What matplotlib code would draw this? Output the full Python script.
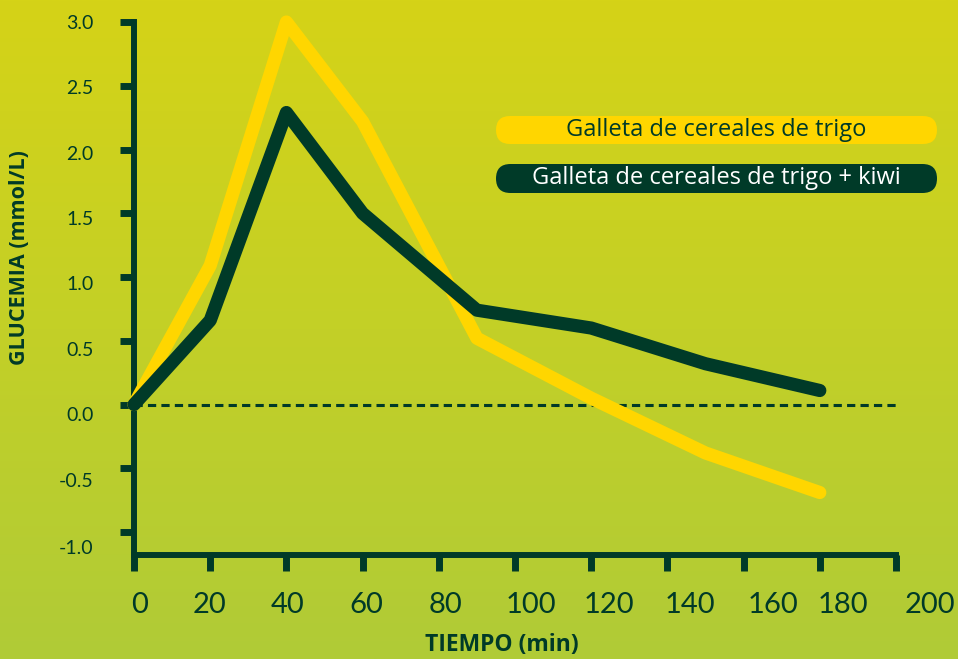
import numpy as np
import matplotlib
matplotlib.use("Agg")
import matplotlib.pyplot as plt
from matplotlib.patches import FancyBboxPatch
from matplotlib.transforms import ScaledTranslation, IdentityTransform
from matplotlib.colors import LinearSegmentedColormap

# ---------------- data ----------------
time_min = [0, 20, 40, 60, 90, 120, 150, 180]
galleta = [0.0, 1.09, 3.0, 2.22, 0.52, 0.05, -0.38, -0.69]
galleta_kiwi = [0.0, 0.66, 2.29, 1.50, 0.74, 0.60, 0.32, 0.11]
series_names = ["Galleta de cereales de trigo",
                "Galleta de cereales de trigo + kiwi"]
x_ticks = [0, 20, 40, 60, 80, 100, 120, 140, 160, 180, 200]
x_tick_labels = ["0", "20", "40", "60", "80", "100", "120", "140", "160", "180", "200"]
y_ticks = [-1.0, -0.5, 0.0, 0.5, 1.0, 1.5, 2.0, 2.5, 3.0]
y_tick_labels = ["-1.0", "-0.5", "0.0", "0.5", "1.0", "1.5", "2.0", "2.5", "3.0"]
x_label = "TIEMPO (min)"
y_label = "GLUCEMIA (mmol/L)"

# ---------------- style ----------------
plt.rcParams['font.family'] = ['Lato', 'DejaVu Sans']
WIDE = ['Open Sans', 'DejaVu Sans']
YELLOW = "#FFD600"
DARK = "#003A28"
W, H, DPI = 958, 659, 100

fig = plt.figure(figsize=(W / DPI, H / DPI), dpi=DPI)

# gradient background
bg = fig.add_axes([0, 0, 1, 1], zorder=0)
grad = np.linspace(0, 1, 256).reshape(-1, 1)
cmap = LinearSegmentedColormap.from_list("bg", ["#D5D317", "#C3D027", "#B0CB37"])
bg.imshow(grad, aspect='auto', cmap=cmap, extent=[0, 1, 0, 1], origin='upper')
bg.axis('off')

ax = fig.add_axes([134 / W, (H - 555) / H, (896 - 134) / W, (555 - 22) / H], zorder=1)
ax.patch.set_alpha(0)

ax.axhline(0, color=DARK, lw=2.2, dashes=(2.7, 1.7), zorder=2)
ax.plot(time_min, galleta, color=YELLOW, lw=9.5, solid_capstyle='round',
        solid_joinstyle='round', zorder=3, clip_on=False)
ax.plot(time_min, galleta_kiwi, color=DARK, lw=9.5, solid_capstyle='round',
        solid_joinstyle='round', zorder=4, clip_on=False)

ax.set_xlim(0, 200)
ax.set_ylim(-1.18, 3.0)

for s in ['top', 'right']:
    ax.spines[s].set_visible(False)
for s in ['left', 'bottom']:
    ax.spines[s].set_color(DARK)
    ax.spines[s].set_linewidth(4.3)
    ax.spines[s].set_capstyle('projecting')

ax.set_xticks(x_ticks, x_tick_labels)
ax.set_yticks(y_ticks, y_tick_labels)
ax.tick_params(axis='y', direction='out', length=10, width=5, color=DARK,
               pad=19, labelsize=14, labelcolor=DARK)
ax.tick_params(axis='x', direction='out', length=11.5, width=5, color=DARK,
               pad=15, labelsize=21, labelcolor=DARK)

# small label nudges as in the original design (pixels)
x_nudge = [6, -1, 1, 4, 7, 16, 18, 23, 29, 23, 34]
y_nudge = [15, 12, 9, 8, 6, 5, 3, 1, 0]
for lab, dx in zip(ax.get_xticklabels(), x_nudge):
    lab.set_transform(lab.get_transform() + ScaledTranslation(dx / DPI, 0, fig.dpi_scale_trans))
for lab, dy in zip(ax.get_yticklabels(), y_nudge):
    lab.set_transform(lab.get_transform() + ScaledTranslation(0, -dy / DPI, fig.dpi_scale_trans))

fig.text(502 / W, 1 - 645 / H, x_label, ha='center', va='center',
         fontsize=16.5, fontweight='bold', color=DARK, family=WIDE)
fig.text(20 / W, 1 - 258 / H, y_label, ha='center', va='center', rotation=90,
         fontsize=15.5, fontweight='bold', color=DARK, family=WIDE)

# legend pills
pill_specs = [(series_names[0], YELLOW, DARK, 116, 144),
              (series_names[1], DARK, "white", 164, 193)]
for name, fc, tc, top, bot in pill_specs:
    h = bot - top
    patch = FancyBboxPatch((496, H - bot), 441, h,
                           boxstyle=f"round,pad=0,rounding_size={h / 2}",
                           transform=IdentityTransform(), facecolor=fc,
                           edgecolor='none', zorder=5)
    fig.add_artist(patch)
    fig.text((496 + 441 / 2) / W, 1 - (top + bot) / 2 / H, name, ha='center',
             va='center', fontsize=17, color=tc, zorder=6, family=WIDE)

fig.savefig("out.png", dpi=DPI)
